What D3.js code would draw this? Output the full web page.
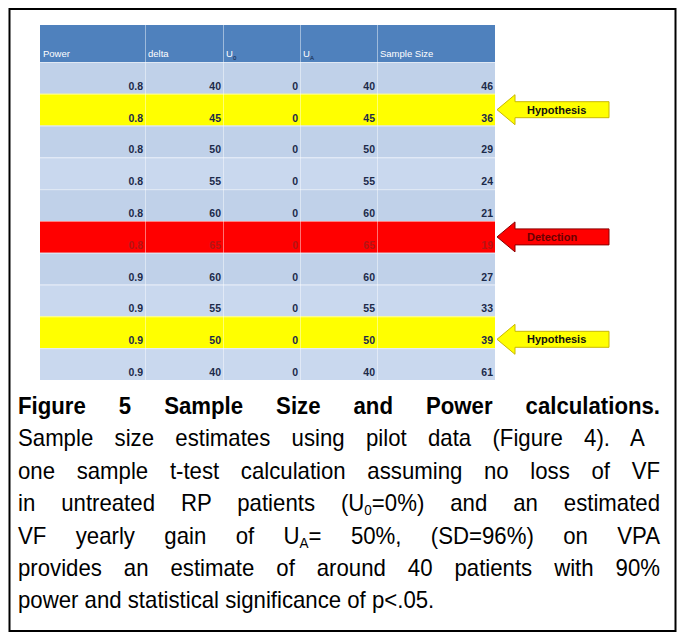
<!DOCTYPE html>
<html>
<head>
<meta charset="utf-8">
<script src="https://cdn.jsdelivr.net/npm/d3@7"></script>
<style>
  body { margin: 0; background: #fff; }
  svg { display: block; }
</style>
</head>
<body>
<svg id="fig" width="681" height="640"></svg>
<script>
// table values
var headers = ["Power", "delta", "U|0", "U|A", "Sample Size"];
var power = [0.8, 0.8, 0.8, 0.8, 0.8, 0.8, 0.9, 0.9, 0.9, 0.9];
var delta = [40, 45, 50, 55, 60, 65, 60, 55, 50, 40];
var u0 = [0, 0, 0, 0, 0, 0, 0, 0, 0, 0];
var uA = [40, 45, 50, 55, 60, 65, 60, 55, 50, 40];
var sampleSize = [46, 36, 29, 24, 21, 19, 27, 33, 39, 61];
var highlight = ["", "yellow", "", "", "", "red", "", "", "yellow", ""];

// callouts next to highlighted rows
var arrowRows = [1, 5, 8];
var arrowLabels = ["Hypothesis", "Detection", "Hypothesis"];

var captionTitle = "Figure 5 Sample Size and Power calculations.";
var captionLines = [
  "Sample size estimates using pilot data (Figure 4).  A",
  "one sample t-test calculation assuming no loss of VF",
  "in untreated RP patients (U{0}=0%) and an estimated",
  "VF yearly gain of U{A}= 50%, (SD=96%) on VPA",
  "provides an estimate of around 40 patients with 90%",
  "power and statistical significance of p<.05."
];

var svg = d3.select("#fig");

// outer frame
svg.append("rect")
    .attr("x", 9.5).attr("y", 9)
    .attr("width", 666).attr("height", 622)
    .attr("fill", "none")
    .attr("stroke", "#000")
    .attr("stroke-width", 2);

var tableLeft = 40, tableRight = 495,
    headTop = 25, headBottom = 62, tableBottom = 380;
var colEdges = [40, 145, 223, 300, 377, 495];

var rows = d3.range(power.length).map(function(i) {
  return [power[i], delta[i], u0[i], uA[i], sampleSize[i]];
});

var y = d3.scaleBand()
    .domain(d3.range(rows.length))
    .range([headBottom, tableBottom]);

var x = d3.scaleOrdinal()
    .domain(d3.range(headers.length))
    .range(colEdges.slice(0, -1));

function colRight(j) { return colEdges[j + 1]; }

var fills = { yellow: "#ffff00", red: "#ff0000" };

// header
var g = svg.append("g").attr("font-family", "'Liberation Sans', Arial, sans-serif");

g.append("rect")
    .attr("x", tableLeft).attr("y", headTop)
    .attr("width", tableRight - tableLeft).attr("height", headBottom - headTop)
    .attr("fill", "#4f81bd");

var head = g.selectAll(".head")
  .data(headers)
  .enter().append("text")
    .attr("class", "head")
    .attr("x", function(d, j) { return x(j) + 3; })
    .attr("y", headBottom - 5)
    .attr("fill", "#fff")
    .attr("font-size", 9.5);

head.each(function(d) {
  var parts = d.split("|");
  var t = d3.select(this);
  t.append("tspan").text(parts[0]);
  if (parts[1]) {
    t.append("tspan").attr("dy", 3).attr("font-size", 6).attr("fill", "#102040").text(parts[1]);
  }
});

// body rows
var row = g.selectAll(".row")
  .data(rows)
  .enter().append("g")
    .attr("class", "row")
    .attr("transform", function(d, i) { return "translate(0," + y(i) + ")"; });

row.append("rect")
    .attr("x", tableLeft)
    .attr("width", tableRight - tableLeft)
    .attr("height", y.bandwidth())
    .attr("fill", function(d, i) {
      if (highlight[i]) return fills[highlight[i]];
      return i % 2 ? "#c9d8ee" : "#c0d1e9";
    });

row.append("line")
    .attr("x1", tableLeft).attr("x2", tableRight)
    .attr("y1", 0.5).attr("y2", 0.5)
    .attr("stroke", "#fff")
    .attr("stroke-opacity", 0.5);

row.each(function(d, i) {
  d3.select(this).selectAll("text")
    .data(d)
    .enter().append("text")
      .attr("x", function(v, j) { return colRight(j) - 2; })
      .attr("y", y.bandwidth() - 4)
      .attr("text-anchor", "end")
      .attr("font-size", 10.5)
      .attr("font-weight", "bold")
      .attr("fill", highlight[i] === "red" ? "#b51515" : "#1c2a4a")
      .text(function(v) { return v; });
});

// column dividers
g.selectAll(".div")
  .data(colEdges.slice(1, -1))
  .enter().append("line")
    .attr("x1", function(d) { return d + 0.5; })
    .attr("x2", function(d) { return d + 0.5; })
    .attr("y1", headTop).attr("y2", tableBottom)
    .attr("stroke", "#fff")
    .attr("stroke-opacity", 0.45);

// arrows
var tipX = 497, headLen = 18, headH = 15, bodyH = 8, endX = 609;

function arrowPath(cy) {
  return "M" + tipX + "," + cy +
    "L" + (tipX + headLen) + "," + (cy - headH) +
    "L" + (tipX + headLen) + "," + (cy - bodyH) +
    "L" + endX + "," + (cy - bodyH) +
    "L" + endX + "," + (cy + bodyH) +
    "L" + (tipX + headLen) + "," + (cy + bodyH) +
    "L" + (tipX + headLen) + "," + (cy + headH) + "Z";
}

function arrowY(r) { return y(r) + y.bandwidth() / 2 + (r === 8 ? 7 : 0); }

var arrow = g.selectAll(".arrow")
  .data(arrowRows)
  .enter().append("g")
    .attr("class", "arrow");

arrow.append("path")
    .attr("d", function(r) { return arrowPath(arrowY(r)); })
    .attr("fill", function(r) { return fills[highlight[r]]; })
    .attr("stroke", function(r) { return highlight[r] === "red" ? "#8a0000" : "#c9b800"; })
    .attr("stroke-width", 1);

arrow.append("text")
    .attr("x", 527)
    .attr("y", function(r) { return arrowY(r) + 4; })
    .attr("font-size", 11)
    .attr("font-weight", "bold")
    .attr("fill", function(r) { return highlight[r] === "red" ? "#6a0000" : "#111"; })
    .text(function(r, k) { return arrowLabels[k]; });

// caption: justified by word spacing
var capLeft = 18, capRight = 660, lineGap = 32.4, firstBase = 414,
    capSize = 23, squeeze = 0.965;
var cap = svg.append("g").attr("font-family", "'Liberation Sans', Arial, sans-serif").attr("fill", "#000");

function capLine(i, bold, justify) {
  var lg = cap.append("g")
      .attr("transform", "translate(" + capLeft + "," + (firstBase + i * lineGap) + ") scale(" + squeeze + ",1)");
  var t = lg.append("text")
      .attr("x", 0).attr("y", 0)
      .attr("font-size", capSize)
      .attr("font-weight", bold ? "bold" : "normal");
  return { t: t, justify: justify };
}

function justifyLine(o, str) {
  if (!o.justify) return;
  var spaces = (str.match(/ /g) || []).length;
  var target = (capRight - capLeft) / squeeze;
  var len = o.t.node().getComputedTextLength();
  o.t.attr("word-spacing", Math.max(0, (target - len) / spaces));
}

var title = capLine(0, true, true);
title.t.text(captionTitle);
justifyLine(title, captionTitle);

captionLines.forEach(function(line, i) {
  var o = capLine(i + 1, false, i < captionLines.length - 1);
  var bits = line.split(/\{|\}/);
  bits.forEach(function(b, k) {
    if (k % 2 === 1) {
      o.t.append("tspan").attr("font-size", 14).attr("dy", 4).text(b);
    } else if (k > 0) {
      o.t.append("tspan").attr("dy", -4).text(b);
    } else {
      o.t.append("tspan").text(b);
    }
  });
  justifyLine(o, line);
});
</script>
</body>
</html>
